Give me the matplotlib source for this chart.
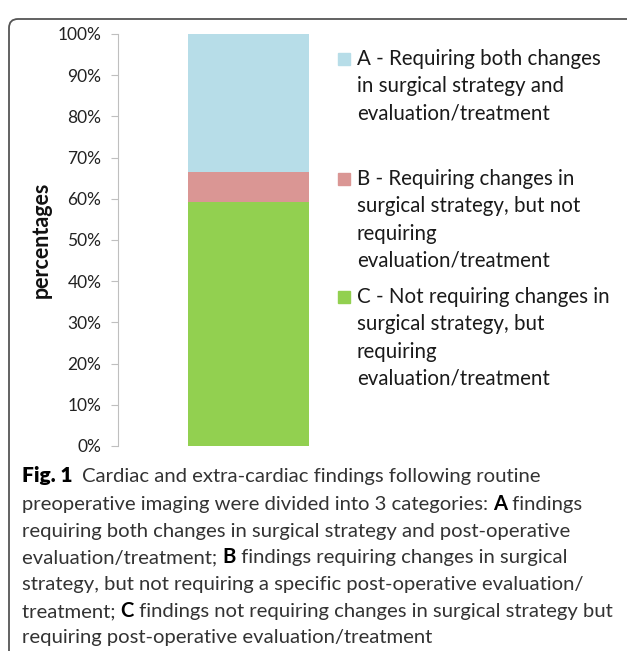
import matplotlib
matplotlib.use("Agg")
import matplotlib.pyplot as plt
from matplotlib.patches import FancyBboxPatch, Rectangle
from matplotlib.transforms import IdentityTransform

# data
categories = ["C", "B", "A"]
shares = [0.592, 0.074, 0.334]
colors = ["#92D050", "#DA9694", "#B7DDE8"]
legend_labels = {
    "A": "A - Requiring both changes\nin surgical strategy and\nevaluation/treatment",
    "B": "B - Requiring changes in\nsurgical strategy, but not\nrequiring\nevaluation/treatment",
    "C": "C - Not requiring changes in\nsurgical strategy, but\nrequiring\nevaluation/treatment",
}
yticks = [0, 0.1, 0.2, 0.3, 0.4, 0.5, 0.6, 0.7, 0.8, 0.9, 1.0]
ylabel = "percentages"

fig_label = "Fig. 1"
caption = [
    [("Cardiac and extra-cardiac findings following routine", False)],
    [("preoperative imaging were divided into 3 categories: ", False), ("A", True), (" findings", False)],
    [("requiring both changes in surgical strategy and post-operative", False)],
    [("evaluation/treatment; ", False), ("B", True), (" findings requiring changes in surgical", False)],
    [("strategy, but not requiring a specific post-operative evaluation/", False)],
    [("treatment; ", False), ("C", True), (" findings not requiring changes in surgical strategy but", False)],
    [("requiring post-operative evaluation/treatment", False)],
]

W, H = 627, 651
plt.rcParams['font.family'] = ['Lato', 'DejaVu Sans']


def fx(x):
    return x / W


def fy(y):
    return 1 - y / H


fig = plt.figure(figsize=(W / 100, H / 100), dpi=100)

# rounded frame (open to the right and bottom)
frame = FancyBboxPatch((9, -60), 800, H - 10 + 60 - 9,
                       boxstyle="round,pad=0,rounding_size=9",
                       transform=IdentityTransform(), fill=False,
                       edgecolor="#555555", linewidth=1.3)
fig.patches.append(frame)

ax = fig.add_axes([fx(118), fy(446), fx(379) - fx(118), fy(34) - fy(446)])
bottom = 0
for cat, val, col in zip(categories, shares, colors):
    ax.bar(0, val, bottom=bottom, width=0.93, color=col, label=cat)
    bottom += val
ax.set_xlim(-1, 1)
ax.set_ylim(0, 1)
ax.set_yticks(yticks)
ax.set_yticklabels(["%d%%" % round(t * 100) for t in yticks])
ax.set_xticks([])
for s in ["top", "right", "bottom"]:
    ax.spines[s].set_visible(False)
ax.spines["left"].set_color("#BFBFBF")
ax.tick_params(axis="y", length=5, color="#BFBFBF", labelsize=12.5, labelcolor="#222222", pad=7)
ax.set_ylabel(ylabel, fontsize=15.5, fontweight="bold", color="#111111", labelpad=4)
ax.patch.set_visible(False)

# legend, top entry first
entry_y = [59, 179, 297]
for cat, ey in zip(["A", "B", "C"], entry_y):
    col = colors[categories.index(cat)]
    fig.patches.append(Rectangle((fx(338), fy(ey + 6)), fx(12), 12 / H,
                                 transform=fig.transFigure, color=col))
    for i, line in enumerate(legend_labels[cat].split("\n")):
        fig.text(fx(357), fy(ey + i * 27.3), line, fontsize=14.8, color="#1a1a1a",
                 va="center")

# caption with mixed bold pieces
fig.canvas.draw()
renderer = fig.canvas.get_renderer()
line_y = [476, 504, 531, 557, 584, 611, 637]
for n, (pieces, ly) in enumerate(zip(caption, line_y)):
    x = 22
    if n == 0:
        t = fig.text(fx(x), fy(ly + 6), fig_label, fontsize=15, va="baseline",
                     fontweight="heavy", color="#000000")
        x += t.get_window_extent(renderer).width + 9
    for txt, bold in pieces:
        t = fig.text(fx(x), fy(ly + 6), txt, fontsize=14.6, va="baseline",
                     fontweight="bold" if bold else "normal",
                     color="#000000" if bold else "#333333")
        x += t.get_window_extent(renderer).width

fig.savefig("out.png", dpi=100)
